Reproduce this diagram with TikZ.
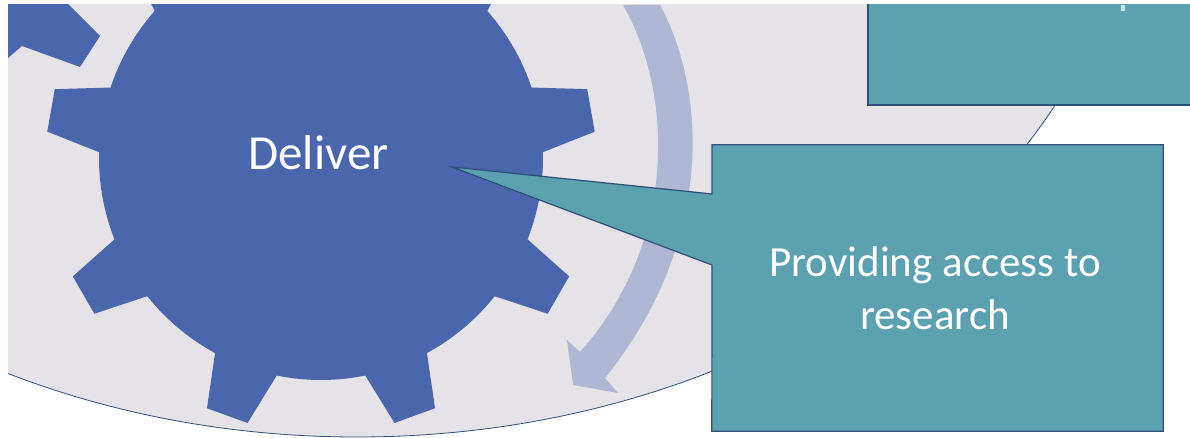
\documentclass[tikz,border=0pt]{standalone}
\usepackage{fontspec}
\setmainfont{Carlito}
\definecolor{gearblue}{HTML}{4A66AC}
\definecolor{boxteal}{HTML}{5BA1AF}
\definecolor{boxline}{HTML}{2F4F7A}
\definecolor{discgray}{HTML}{E6E3E8}
\definecolor{arrowblue}{HTML}{AFB7D5}
\tikzset{
    boxtext/.style={text=white, align=center, font=\fontsize{43}{53}\selectfont},
    calloutbox/.style={fill=boxteal, draw=boxline, line width=1.2pt}
}
\begin{document}
\begin{tikzpicture}[x=1pt, y=1pt]
    \useasboundingbox (0,0) rectangle (1190,438);
    \clip (8,0) rectangle (1190,433);

    % Define node positions
    \coordinate (hub) at (321,280);
    \coordinate (tip) at (452,271);
    \node[minimum width=451pt, minimum height=286pt, inner sep=0pt] (research) at (937.5,150) {};
    \coordinate (tipup) at (712,244);
    \coordinate (tipdown) at (712,173);

    % Large disc behind the gear
    \draw[fill=discgray, draw=boxline, line width=0.8pt] (357,608) ellipse[x radius=783, y radius=607];

    % Curved arrow
    \fill[arrowblue] (623,433) .. controls (672,348) and (680,198) .. (580,86)
        -- (567,98) -- (573,53) -- (618,45) -- (605,60)
        .. controls (716,198) and (706,348) .. (660,433) -- cycle;

    % Tooth of the gear above
    \fill[gearblue] (8,380) -- (22,392) -- (80,371) -- (100,402) -- (60,442) -- (8,442) -- cycle;

    % Gear
    \fill[gearblue, shift={(hub)}] (18.5:222)
        foreach \a in {10,-30,...,-310} {
            -- ({\a+4.5}:275) -- ({\a-4.5}:275) -- ({\a-8.5}:222)
            arc[start angle=\a-8.5, end angle=\a-31.5, radius=222]
        } -- cycle;
    \node[text=white, font=\fontsize{49}{55}\selectfont] (deliver) at (318.5,285) {Deliver};

    % Upper box
    \node[calloutbox, minimum width=340pt, minimum height=120pt, inner sep=0pt] (upper) at (1038,393) {};
    \fill[white!70!boxteal] (1120.5,433) rectangle (1125,427);

    % Callout with pointer
    \draw[calloutbox, line join=miter] (tip) -- (tipup) |- (research.north east)
        -- (research.south east) -- (research.south west) -- (tipdown) -- cycle;
    \node[boxtext] (researchtext) at (935,150) {Providing access to\\research};
\end{tikzpicture}
\end{document}
